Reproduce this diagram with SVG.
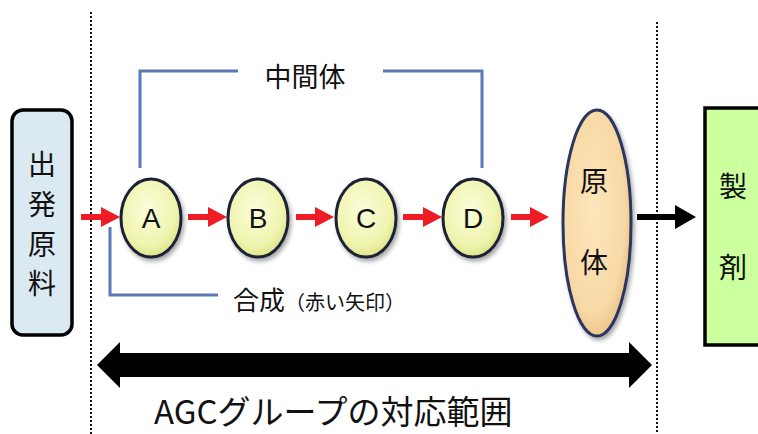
<svg xmlns="http://www.w3.org/2000/svg" width="758" height="434" viewBox="0 0 758 434">
<style>
.jp{font-family:"Noto Sans CJK JP","Noto Sans",sans-serif;fill:#111}
.lt{font-family:"Liberation Sans",Arial,sans-serif;fill:#111}
.dot{stroke:#111;stroke-width:2;stroke-dasharray:2 2;fill:none}
.blue{stroke:#5b79b9;stroke-width:3;fill:none}
.red{fill:#ee1c25}
.blk{fill:#000}
.node{stroke:#1e2235;stroke-width:3;fill:url(#gy)}
</style>
<defs>
<radialGradient id="gy" cx="0.45" cy="0.4" r="0.65">
<stop offset="0" stop-color="#fbfddc"/>
<stop offset="0.7" stop-color="#eff4ae"/>
<stop offset="1" stop-color="#d9df80"/>
</radialGradient>
<radialGradient id="go" cx="0.45" cy="0.45" r="0.6">
<stop offset="0" stop-color="#fde6bc"/>
<stop offset="0.75" stop-color="#f8d9a6"/>
<stop offset="1" stop-color="#e8bf82"/>
</radialGradient>
<filter id="sh" x="-30%" y="-30%" width="160%" height="160%">
<feDropShadow dx="2" dy="3" stdDeviation="2" flood-color="#000" flood-opacity="0.35"/>
</filter>
</defs>

<g id="dotted-lines">
<line class="dot" x1="91" y1="12" x2="91" y2="434"/>
<line class="dot" x1="657" y1="22" x2="657" y2="434"/>
</g>

<g id="brackets">
<polyline class="blue" points="140,168 140,71 238,71"/>
<polyline class="blue" points="383,71 482,71 482,168"/>
<polyline class="blue" points="110,227 110,295 218,295"/>
<text class="jp" x="305" y="87" font-size="27" text-anchor="middle">中間体</text>
<text class="jp" x="233" y="310" font-size="26">合成<tspan font-size="20">（赤い矢印）</tspan></text>
</g>

<g id="start">
<rect x="12" y="110" width="60" height="225" rx="11" fill="#dbe9f2" stroke="#000" stroke-width="3.5"/>
<text class="jp" x="42" font-size="28" text-anchor="middle"><tspan x="42" y="175">出</tspan><tspan x="42" y="215">発</tspan><tspan x="42" y="255">原</tspan><tspan x="42" y="294">料</tspan></text>
</g>

<g id="connectors">
<path class="red" d="M81,214 H101 V207 L120,217 L101,227 V220 H81 Z"/>
<path class="red" d="M188,214 H208 V207 L227,217 L208,227 V220 H188 Z"/>
<path class="red" d="M296,214 H315 V207 L334,217 L315,227 V220 H296 Z"/>
<path class="red" d="M403,214 H423 V207 L442,217 L423,227 V220 H403 Z"/>
<path class="red" d="M511,214 H530 V207 L549,217 L530,227 V220 H511 Z"/>
<path class="blk" d="M637,214 H675 V205 L696,217 L675,229 V220 H637 Z"/>
<path class="blk" d="M97,365 L120,342 V353 H629 V342 L652,365 L629,388 V377 H120 V388 Z"/>
</g>

<g id="node-A"><ellipse class="node" cx="151" cy="218" rx="30" ry="39" filter="url(#sh)"/><text class="lt" x="151" y="228" font-size="28" text-anchor="middle">A</text></g>
<g id="node-B"><ellipse class="node" cx="258" cy="218" rx="30" ry="39" filter="url(#sh)"/><text class="lt" x="258" y="228" font-size="28" text-anchor="middle">B</text></g>
<g id="node-C"><ellipse class="node" cx="366" cy="218" rx="30" ry="39" filter="url(#sh)"/><text class="lt" x="366" y="228" font-size="28" text-anchor="middle">C</text></g>
<g id="node-D"><ellipse class="node" cx="473" cy="218" rx="30" ry="39" filter="url(#sh)"/><text class="lt" x="473" y="228" font-size="28" text-anchor="middle">D</text></g>

<g id="api">
<ellipse cx="597" cy="223" rx="34" ry="113" fill="url(#go)" stroke="#2b3560" stroke-width="3" filter="url(#sh)"/>
<text class="jp" font-size="28" text-anchor="middle"><tspan x="594" y="192">原</tspan><tspan x="594" y="273">体</tspan></text>
</g>

<g id="product">
<rect x="705" y="108" width="70" height="237" fill="#ccff9e" stroke="#000" stroke-width="3.5"/>
<text class="jp" font-size="28" text-anchor="middle"><tspan x="733" y="197">製</tspan><tspan x="733" y="278">剤</tspan></text>
</g>

<g id="scope-label">
<text class="jp" x="154" y="424" font-size="33">AGCグループの対応範囲</text>
</g>
</svg>
